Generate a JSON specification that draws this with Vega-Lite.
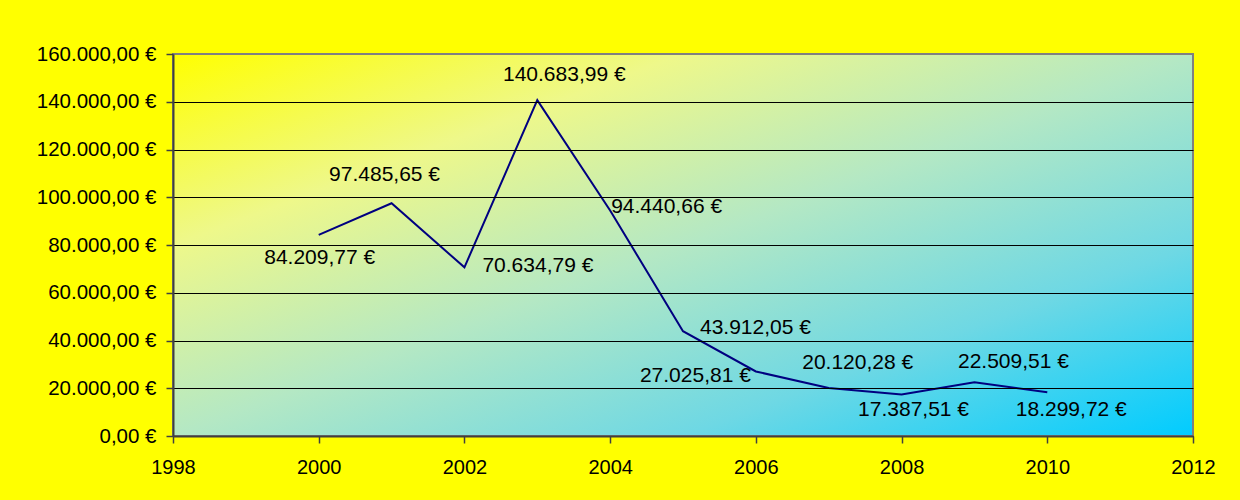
{
  "$schema": "https://vega.github.io/schema/vega-lite/v6.json",
  "width": 1020,
  "height": 382,
  "autosize": {"type": "none"},
  "padding": {"left": 173, "top": 54, "right": 47, "bottom": 64},
  "background": "#FFFF00",
  "config": {
    "locale": {"number": {"decimal": ",", "thousands": ".", "grouping": [3], "currency": ["", " €"]}},
    "view": {"stroke": null},
    "font": "Liberation Sans",
    "text": {"font": "Liberation Sans", "fontSize": 21, "color": "#000000", "baseline": "middle"}
  },
  "datasets": {
    "frame": [{"label": "plot"}],
    "series": [
      {"year": 2000, "amount": 84209.77},
      {"year": 2001, "amount": 97485.65},
      {"year": 2002, "amount": 70634.79},
      {"year": 2003, "amount": 140683.99},
      {"year": 2004, "amount": 94440.66},
      {"year": 2005, "amount": 43912.05},
      {"year": 2006, "amount": 27025.81},
      {"year": 2007, "amount": 20120.28},
      {"year": 2008, "amount": 17387.51},
      {"year": 2009, "amount": 22509.51},
      {"year": 2010, "amount": 18299.72}
    ]
  },
  "layer": [
    {
      "data": {"name": "frame"},
      "mark": {
        "type": "rect",
        "fill": {"gradient": "linear", "x1": 0, "y1": 0, "x2": 1, "y2": 1,
          "stops": [
            {"offset": 0, "color": "#FFFF00"},
            {"offset": 0.25, "color": "#EEF88A"},
            {"offset": 0.5, "color": "#B4E8C4"},
            {"offset": 0.75, "color": "#6ED8E4"},
            {"offset": 1, "color": "#00CCFF"}
          ]},
        "stroke": "#808080",
        "strokeWidth": 2
      },
      "encoding": {
        "x": {"datum": 1998, "type": "quantitative", "title": null,
          "scale": {"domain": [1998, 2012], "nice": false, "zero": false},
          "axis": {"values": [1998, 2000, 2002, 2004, 2006, 2008, 2010, 2012], "format": "d", "grid": false,
            "tickSize": 7, "tickColor": "#404040", "tickWidth": 1.5, "labelPadding": 14, "labelFontSize": 20,
            "labelColor": "#000000", "labelFont": "Liberation Sans", "domainColor": "#404040", "domainWidth": 2,
            "labelFlush": false, "labelOverlap": false, "zindex": 1}},
        "x2": {"datum": 2012},
        "y": {"datum": 0, "type": "quantitative", "title": null,
          "scale": {"domain": [0, 160000], "nice": false, "zero": true},
          "axis": {"values": [0, 20000, 40000, 60000, 80000, 100000, 120000, 140000, 160000], "format": "$,.2f",
            "grid": true, "gridColor": {"condition": {"test": "datum.value === 160000", "value": "#808080"}, "value": "#000000"},
            "gridWidth": 1, "tickSize": 7, "tickColor": "#404040", "tickWidth": 1.5, "labelPadding": 10,
            "labelFontSize": 20.5, "labelColor": "#000000", "labelFont": "Liberation Sans",
            "domainColor": "#404040", "domainWidth": 2, "labelFlush": false, "labelOverlap": false, "zindex": 1}},
        "y2": {"datum": 160000}
      }
    },
    {
      "data": {"name": "series"},
      "mark": {"type": "line", "color": "#000080", "strokeWidth": 2},
      "encoding": {
        "x": {"field": "year", "type": "quantitative", "title": null},
        "y": {"field": "amount", "type": "quantitative", "title": null}
      }
    },
    {"data": {"name": "series"}, "transform": [{"filter": "datum.year == 2000"}],
      "mark": {"type": "text", "align": "center", "dx": 1, "dy": 23},
      "encoding": {"x": {"field": "year", "type": "quantitative", "title": null}, "y": {"field": "amount", "type": "quantitative", "title": null}, "text": {"field": "amount", "type": "quantitative", "format": "$,.2f"}}},
    {"data": {"name": "series"}, "transform": [{"filter": "datum.year == 2001"}],
      "mark": {"type": "text", "align": "center", "dx": -7, "dy": -28},
      "encoding": {"x": {"field": "year", "type": "quantitative", "title": null}, "y": {"field": "amount", "type": "quantitative", "title": null}, "text": {"field": "amount", "type": "quantitative", "format": "$,.2f"}}},
    {"data": {"name": "series"}, "transform": [{"filter": "datum.year == 2002"}],
      "mark": {"type": "text", "align": "left", "dx": 18, "dy": -1},
      "encoding": {"x": {"field": "year", "type": "quantitative", "title": null}, "y": {"field": "amount", "type": "quantitative", "title": null}, "text": {"field": "amount", "type": "quantitative", "format": "$,.2f"}}},
    {"data": {"name": "series"}, "transform": [{"filter": "datum.year == 2003"}],
      "mark": {"type": "text", "align": "center", "dx": 27, "dy": -25},
      "encoding": {"x": {"field": "year", "type": "quantitative", "title": null}, "y": {"field": "amount", "type": "quantitative", "title": null}, "text": {"field": "amount", "type": "quantitative", "format": "$,.2f"}}},
    {"data": {"name": "series"}, "transform": [{"filter": "datum.year == 2004"}],
      "mark": {"type": "text", "align": "left", "dx": 1, "dy": -4},
      "encoding": {"x": {"field": "year", "type": "quantitative", "title": null}, "y": {"field": "amount", "type": "quantitative", "title": null}, "text": {"field": "amount", "type": "quantitative", "format": "$,.2f"}}},
    {"data": {"name": "series"}, "transform": [{"filter": "datum.year == 2005"}],
      "mark": {"type": "text", "align": "left", "dx": 17, "dy": -3},
      "encoding": {"x": {"field": "year", "type": "quantitative", "title": null}, "y": {"field": "amount", "type": "quantitative", "title": null}, "text": {"field": "amount", "type": "quantitative", "format": "$,.2f"}}},
    {"data": {"name": "series"}, "transform": [{"filter": "datum.year == 2006"}],
      "mark": {"type": "text", "align": "right", "dx": -5, "dy": 5},
      "encoding": {"x": {"field": "year", "type": "quantitative", "title": null}, "y": {"field": "amount", "type": "quantitative", "title": null}, "text": {"field": "amount", "type": "quantitative", "format": "$,.2f"}}},
    {"data": {"name": "series"}, "transform": [{"filter": "datum.year == 2007"}],
      "mark": {"type": "text", "align": "center", "dx": 29, "dy": -25},
      "encoding": {"x": {"field": "year", "type": "quantitative", "title": null}, "y": {"field": "amount", "type": "quantitative", "title": null}, "text": {"field": "amount", "type": "quantitative", "format": "$,.2f"}}},
    {"data": {"name": "series"}, "transform": [{"filter": "datum.year == 2008"}],
      "mark": {"type": "text", "align": "center", "dx": 12, "dy": 16},
      "encoding": {"x": {"field": "year", "type": "quantitative", "title": null}, "y": {"field": "amount", "type": "quantitative", "title": null}, "text": {"field": "amount", "type": "quantitative", "format": "$,.2f"}}},
    {"data": {"name": "series"}, "transform": [{"filter": "datum.year == 2009"}],
      "mark": {"type": "text", "align": "center", "dx": 39, "dy": -20},
      "encoding": {"x": {"field": "year", "type": "quantitative", "title": null}, "y": {"field": "amount", "type": "quantitative", "title": null}, "text": {"field": "amount", "type": "quantitative", "format": "$,.2f"}}},
    {"data": {"name": "series"}, "transform": [{"filter": "datum.year == 2010"}],
      "mark": {"type": "text", "align": "center", "dx": 24, "dy": 18},
      "encoding": {"x": {"field": "year", "type": "quantitative", "title": null}, "y": {"field": "amount", "type": "quantitative", "title": null}, "text": {"field": "amount", "type": "quantitative", "format": "$,.2f"}}}
  ]
}
